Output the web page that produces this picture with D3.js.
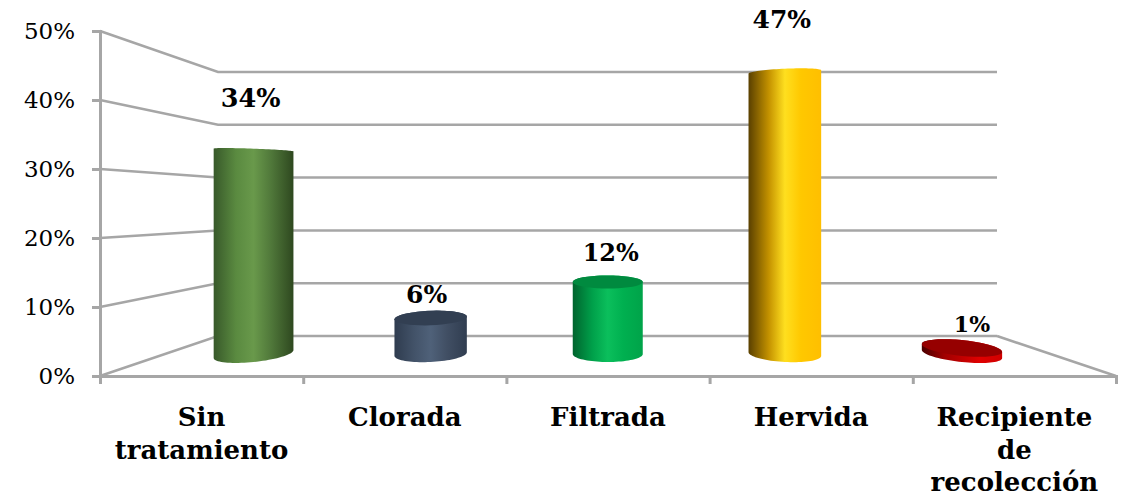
<!DOCTYPE html>
<html>
<head>
<meta charset="utf-8">
<script src="https://d3js.org/d3.v7.min.js"></script>
<style>
  body { margin: 0; background: #fff; }
  text { font-family: "DejaVu Serif", serif; fill: #000; }
</style>
</head>
<body>
<svg id="chart" width="1127" height="496"></svg>
<script>
var categories = [["Sin", "tratamiento"], ["Clorada"], ["Filtrada"], ["Hervida"], ["Recipiente", "de", "recolección"]];
var values = [34, 6, 12, 47, 1];
var yTicks = [0, 10, 20, 30, 40, 50];
var barColors = [
    ["#38592a", "#5a8a40", "#69994b", "#50783a", "#2e481f"],
    ["#2f3c4f", "#435369", "#4f6179", "#414f64", "#303d50"],
    ["#00642e", "#00a04a", "#0bbf5c", "#00b050", "#00a349"],
    ["#5a4000", "#c49200", "#ffdf1f", "#ffc800", "#ffbf00"],
    ["#4a0000", "#a00000", "#c00000", "#e00000", "#d00000"]
];
var topColors = ["#5a8a40", "#323f52", "#008a3f", "#e0aa00", "#960000"];

var svg = d3.select("#chart");

// walls of the 3D box
var wallFront = { left: 100, right: 1116, bottom: 376, top: 31 };
var wallBack = { left: 218, right: 997, bottom: 336, top: 72 };
var vanish = { x: 603, y: 204 };

var yFront = d3.scaleLinear().domain([0, 50]).range([wallFront.bottom, wallFront.top]);
var yBack = d3.scaleLinear().domain([0, 50]).range([wallBack.bottom, wallBack.top]);
var xFront = d3.scaleLinear().domain([0, 5]).range([wallFront.left, wallFront.right]);
var xCat = d3.scaleBand().domain(d3.range(5)).range([wallFront.left, wallFront.right]);
// bars stand a bit more than halfway back
var xBar = d3.scaleBand().domain(d3.range(5)).range([165, 1050.5]);
var yBar = d3.scaleLinear().domain([0, 47]).range([354, 72]);

var gridColor = "#a6a6a6";

var wall = d3.line();
svg.append("g").selectAll("path")
    .data(yTicks)
    .enter().append("path")
    .attr("d", function(d) {
        return wall([[wallFront.left, yFront(d)], [wallBack.left, yBack(d)], [wallBack.right, yBack(d)]]);
    })
    .attr("fill", "none")
    .attr("stroke", gridColor)
    .attr("stroke-width", 2.5);

// floor edge on the right
svg.append("path")
    .attr("d", wall([[wallBack.right, yBack(0)], [wallFront.right, yFront(0)]]))
    .attr("stroke", gridColor)
    .attr("stroke-width", 2.5);

var yAxis = d3.axisLeft(yFront)
    .tickValues(yTicks)
    .tickSize(8)
    .tickPadding(17)
    .tickFormat(function(d) { return d + "%"; });

var gy = svg.append("g")
    .attr("transform", "translate(" + wallFront.left + ",0)")
    .call(yAxis);
gy.selectAll("text").style("font-size", "23px").style("font-family", '"DejaVu Serif", serif');

var xAxis = d3.axisBottom(xFront).ticks(5).tickSize(8).tickFormat("");
var gx = svg.append("g")
    .attr("transform", "translate(0," + wallFront.bottom + ")")
    .call(xAxis);

svg.selectAll(".domain, .tick line")
    .attr("stroke", gridColor)
    .attr("stroke-width", 3);

// gradients
var defs = svg.append("defs");
barColors.forEach(function(cols, i) {
    var grad = defs.append("linearGradient").attr("id", "bar" + i);
    var offsets = [0, 0.28, 0.5, 0.72, 1];
    cols.forEach(function(c, j) {
        grad.append("stop").attr("offset", offsets[j]).attr("stop-color", c);
    });
});

// perspective of a bar's ellipse: flat at the horizon, tilted away from the vanishing point
function ellipse(cx, cy, t0, t1) {
    var dx = cx - vanish.x, dy = cy - vanish.y;
    var rx = 35 + dx * dx * 4e-5;
    var ry = dy < 0 ? -dy * 0.025 : 5 + dy * 0.02;
    var slope = dy * dx * 1.9e-6;
    return d3.range(0, 41).map(function(k) {
        var t = t0 + (t1 - t0) * k / 40;
        return [cx + rx * Math.cos(t), cy + ry * Math.sin(t) + slope * rx * Math.cos(t)];
    });
}

var bars = svg.append("g").selectAll("g")
    .data(values)
    .enter().append("g");

bars.append("path")
    .attr("d", function(d, i) {
        var cx = xBar(i) + xBar.bandwidth() / 2;
        var topY = yBar(d);
        // lower half of the base, then the far half of the cap
        var pts = ellipse(cx, yBar(0), 0, Math.PI).concat(ellipse(cx, topY, Math.PI, 2 * Math.PI));
        return d3.line()(pts) + "Z";
    })
    .attr("fill", function(d, i) { return "url(#bar" + i + ")"; });

// cap is only visible when the bar ends below the horizon
bars.filter(function(d) { return yBar(d) > vanish.y; })
    .append("path")
    .attr("d", function(d) {
        var i = values.indexOf(d);
        var cx = xBar(i) + xBar.bandwidth() / 2;
        return d3.line()(ellipse(cx, yBar(d), 0, 2 * Math.PI)) + "Z";
    })
    .attr("fill", function(d) { return topColors[values.indexOf(d)]; });

// value labels
var labelNudge = [[-3, -43], [-4, -15], [3, -21], [-3, -44], [10, -16]];
var labelSizes = [25.5, 25, 24, 25, 22];
svg.append("g").selectAll("text")
    .data(values)
    .enter().append("text")
    .attr("x", function(d, i) { return xBar(i) + xBar.bandwidth() / 2 + labelNudge[i][0]; })
    .attr("y", function(d, i) { return yBar(d) + labelNudge[i][1]; })
    .attr("text-anchor", "middle")
    .attr("font-weight", "bold")
    .attr("font-size", function(d, i) { return labelSizes[i]; })
    .text(function(d) { return d + "%"; });

// category labels
var catText = svg.append("g").selectAll("text")
    .data(categories)
    .enter().append("text")
    .attr("text-anchor", "middle")
    .attr("font-weight", "bold")
    .attr("font-size", 26);

catText.selectAll("tspan")
    .data(function(d, i) { return d.map(function(s) { return { s: s, i: i }; }); })
    .enter().append("tspan")
    .attr("x", function(d) { return xCat(d.i) + xCat.bandwidth() / 2; })
    .attr("y", function(d, j) { return 426 + j * 32.5; })
    .text(function(d) { return d.s; });
</script>
</body>
</html>
